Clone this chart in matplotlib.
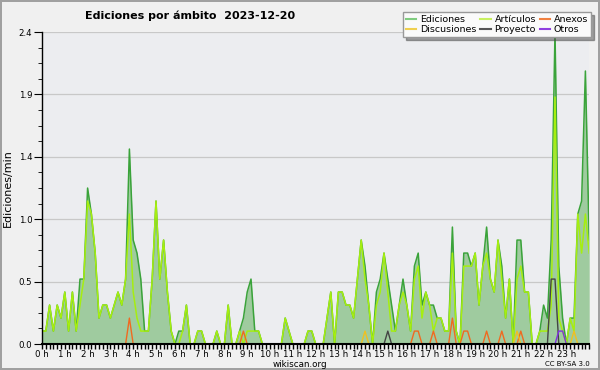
import matplotlib
matplotlib.use('Agg')
import matplotlib.pyplot as plt
import matplotlib.transforms as mtransforms
from matplotlib.lines import Line2D
import numpy as np

# 10-minute bins, edits per minute
ediciones = [0.1, 0.1, 0.3, 0.1, 0.3, 0.2, 0.4, 0.1, 0.4, 0.1, 0.5, 0.5,
             1.2, 1.0, 0.7, 0.2, 0.3, 0.3, 0.2, 0.3, 0.4, 0.3, 0.5, 1.5,
             0.8, 0.7, 0.5, 0.1, 0.1, 0.5, 1.1, 0.5, 0.8, 0.4, 0.1, 0.0,
             0.1, 0.1, 0.3, 0.0, 0.0, 0.1, 0.1, 0.0, 0.0, 0.0, 0.1, 0.0,
             0.0, 0.3, 0.0, 0.0, 0.1, 0.2, 0.4, 0.5, 0.1, 0.1, 0.0, 0.0,
             0.0, 0.0, 0.0, 0.0, 0.2, 0.1, 0.0, 0.0, 0.0, 0.0, 0.1, 0.1,
             0.0, 0.0, 0.0, 0.2, 0.4, 0.0, 0.4, 0.4, 0.3, 0.3, 0.2, 0.5,
             0.8, 0.6, 0.3, 0.0, 0.4, 0.5, 0.7, 0.5, 0.3, 0.1, 0.3, 0.5,
             0.3, 0.1, 0.6, 0.7, 0.3, 0.4, 0.3, 0.3, 0.2, 0.2, 0.1, 0.1,
             0.9, 0.1, 0.0, 0.7, 0.7, 0.6, 0.7, 0.3, 0.6, 0.9, 0.5, 0.4,
             0.8, 0.6, 0.2, 0.5, 0.0, 0.8, 0.8, 0.4, 0.4, 0.0, 0.0, 0.1,
             0.3, 0.2, 0.8, 2.4, 0.6, 0.2, 0.0, 0.2, 0.2, 1.0, 1.1, 2.1,
             0.8]
articulos = [0.1, 0.1, 0.3, 0.1, 0.3, 0.2, 0.4, 0.1, 0.4, 0.1, 0.3, 0.5,
             1.1, 1.0, 0.7, 0.2, 0.3, 0.3, 0.2, 0.3, 0.4, 0.3, 0.5, 1.0,
             0.4, 0.2, 0.1, 0.1, 0.1, 0.5, 1.1, 0.5, 0.8, 0.4, 0.1, 0.0,
             0.0, 0.1, 0.3, 0.0, 0.0, 0.1, 0.1, 0.0, 0.0, 0.0, 0.1, 0.0,
             0.0, 0.3, 0.0, 0.0, 0.1, 0.0, 0.1, 0.1, 0.1, 0.1, 0.0, 0.0,
             0.0, 0.0, 0.0, 0.0, 0.2, 0.1, 0.0, 0.0, 0.0, 0.0, 0.1, 0.1,
             0.0, 0.0, 0.0, 0.2, 0.4, 0.0, 0.4, 0.4, 0.3, 0.3, 0.2, 0.5,
             0.8, 0.5, 0.3, 0.0, 0.3, 0.4, 0.7, 0.4, 0.1, 0.1, 0.3, 0.4,
             0.3, 0.1, 0.5, 0.6, 0.2, 0.4, 0.3, 0.1, 0.2, 0.2, 0.1, 0.1,
             0.7, 0.1, 0.0, 0.6, 0.6, 0.6, 0.7, 0.3, 0.6, 0.7, 0.5, 0.4,
             0.8, 0.5, 0.2, 0.5, 0.0, 0.5, 0.6, 0.4, 0.4, 0.0, 0.0, 0.1,
             0.1, 0.1, 0.3, 1.9, 0.2, 0.1, 0.0, 0.2, 0.1, 1.0, 0.7, 1.0,
             0.7]
n = len(ediciones)
anexos = [0.0] * n
for i, v in [(23, 0.2), (53, 0.1), (98, 0.1), (99, 0.1), (103, 0.1), (108, 0.2),
             (111, 0.1), (112, 0.1), (117, 0.1), (121, 0.1), (126, 0.1)]:
    anexos[i] = v
discusiones = [0.0] * n
for i in [85, 125, 140]:
    discusiones[i] = 0.1
proyecto = [0.0] * n
for i, v in [(91, 0.1), (134, 0.5), (135, 0.5)]:
    proyecto[i] = v
otros = [0.0] * n
for i in [136, 137]:
    otros[i] = 0.1

hours = np.arange(n) / 6.0

fig = plt.figure(figsize=(6, 3.7), dpi=100, facecolor='#f0f0f0',
                 edgecolor='#a0a0a0', linewidth=1.5)
ax = fig.add_axes([0.07, 0.07, 0.912, 0.8435])
ax.set_facecolor('#ecedf0')

ax.fill_between(hours, ediciones, color='#9fcb9f', lw=0)
ax.plot(hours, ediciones, color='#3aa33a', lw=1.1)
ax.plot(hours, articulos, color='#a6ee10', lw=1.1)
ax.plot(hours, anexos, color='#f06a20', lw=1)
ax.plot(hours, discusiones, color='#f0c020', lw=1)
ax.plot(hours, proyecto, color='#444444', lw=1)
ax.plot(hours, otros, color='#8030e0', lw=1)

ax.set_xlim(0, 24)
ax.set_ylim(0, 2.4)
yt = np.linspace(0, 2.4, 6)
ax.set_yticks(yt)
ax.set_yticklabels([f'{v:.1f}' for v in yt])
ax.set_yticks(np.arange(0, 2.41, 0.12), minor=True)
ax.set_xticks(range(24))
ax.set_xticklabels([f'{h} h' for h in range(24)])
ax.set_xticks(np.arange(0, 24.01, 1 / 6), minor=True)
offset = mtransforms.ScaledTranslation(3 / 100, 0, fig.dpi_scale_trans)
for lab in ax.get_xticklabels():
    lab.set_transform(lab.get_transform() + offset)

ax.tick_params(axis='x', which='both', length=3.5, width=1, pad=0.5, labelsize=6.2)
ax.tick_params(axis='y', which='major', length=6, labelsize=6.2, pad=1)
ax.tick_params(axis='y', which='minor', length=3)
ax.grid(axis='y', which='major', color='#c8c8c8', lw=0.9)
ax.set_axisbelow(True)
for s in ['top', 'right']:
    ax.spines[s].set_visible(False)
ax.spines['bottom'].set_linewidth(1.5)
ax.spines['left'].set_linewidth(1)

ax.set_ylabel('Ediciones/min', fontsize=8, labelpad=4)
fig.text(0.142, 0.958, 'Ediciones por ámbito  2023-12-20', fontsize=8,
         fontweight='bold', ha='left', va='center')
fig.text(0.5, 0.014, 'wikiscan.org', fontsize=6.3, ha='center', va='center')
fig.text(0.983, 0.016, 'CC BY-SA 3.0', fontsize=5, ha='right', va='center')

handles = [Line2D([], [], color='#80cc80'), Line2D([], [], color='#f0d050'),
           Line2D([], [], color='#c8f060'), Line2D([], [], color='#555555'),
           Line2D([], [], color='#f08040'), Line2D([], [], color='#9040e0')]
labels = ['Ediciones', 'Discusiones', 'Artículos', 'Proyecto', 'Anexos', 'Otros']
leg = fig.legend(handles, labels, ncol=3, loc='upper right',
                 bbox_to_anchor=(0.993, 0.98), fontsize=6.8, frameon=True,
                 fancybox=False, shadow=True, handlelength=1.1,
                 handletextpad=0.4, columnspacing=0.4, labelspacing=0.1,
                 borderpad=0.3)
leg.get_frame().set_facecolor('#fafafa')
leg.get_frame().set_edgecolor('#999999')

plt.savefig('out.png', dpi=100)
